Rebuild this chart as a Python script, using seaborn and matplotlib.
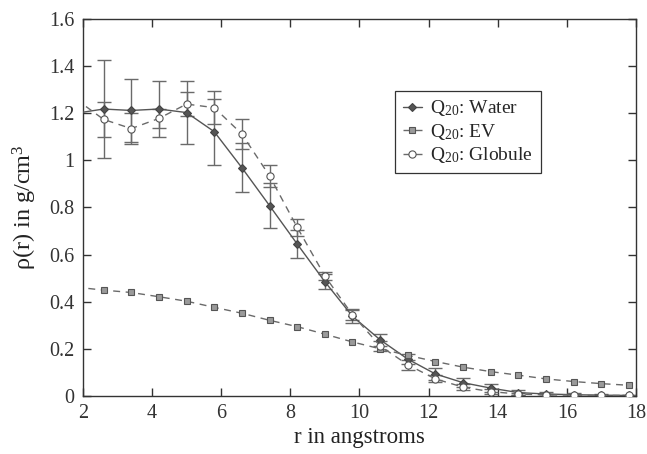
import numpy as np
import pandas as pd
import matplotlib
matplotlib.use("Agg")
import matplotlib.pyplot as plt
import seaborn as sns
from matplotlib.ticker import FuncFormatter

# Radial bin centres (first point sits just left of the axis and is clipped)
r = [1.8, 2.6, 3.4, 4.2, 5.0, 5.8, 6.6, 7.4, 8.2, 9.0, 9.8,
     10.6, 11.4, 12.2, 13.0, 13.8, 14.6, 15.4, 16.2, 17.0, 17.8]

water = [1.20, 1.218, 1.212, 1.218, 1.203, 1.122, 0.969, 0.808, 0.645, 0.485, 0.338,
         0.238, 0.156, 0.093, 0.056, 0.033, 0.014, 0.008, 0.005, 0.003, 0.002]
water_err = [0.0, 0.21, 0.133, 0.12, 0.135, 0.14, 0.105, 0.094, 0.06, 0.032, 0.03,
             0.025, 0.022, 0.025, 0.02, 0.017, 0.012, 0.008, 0.006, 0.004, 0.003]

ev = [0.462, 0.449, 0.439, 0.421, 0.402, 0.376, 0.351, 0.321, 0.294, 0.262, 0.229,
      0.200, 0.172, 0.146, 0.122, 0.103, 0.088, 0.072, 0.061, 0.052, 0.045]

globule = [1.26, 1.174, 1.135, 1.178, 1.239, 1.224, 1.112, 0.934, 0.716, 0.509, 0.344,
           0.212, 0.132, 0.072, 0.037, 0.018, 0.008, 0.004, 0.003, 0.002, 0.002]
globule_err = [0.0, 0.075, 0.065, 0.04, 0.05, 0.07, 0.065, 0.048, 0.035, 0.015, 0.02,
               0.02, 0.02, 0.015, 0.012, 0.01, 0.006, 0.004, 0.003, 0.002, 0.002]

labels = ["Q$_{20}$: Water", "Q$_{20}$: EV", "Q$_{20}$: Globule"]
xticks = [2, 4, 6, 8, 10, 12, 14, 16, 18]
yticks = [0, 0.2, 0.4, 0.6, 0.8, 1.0, 1.2, 1.4, 1.6]

df = pd.DataFrame({"r": r, "water": water, "ev": ev, "globule": globule})

sns.set_style("ticks")
plt.rcParams["font.family"] = ["Liberation Serif", "DejaVu Serif"]
plt.rcParams["mathtext.fontset"] = "custom"
plt.rcParams["mathtext.rm"] = "Liberation Serif"
plt.rcParams["mathtext.it"] = "Liberation Serif:italic"

fig = plt.figure(figsize=(6.47, 4.54), dpi=100)
ax = fig.add_axes([0.128, 0.128, 0.855, 0.830])

dark = "#555555"
mid = "#6a6a6a"

# error bars (skip the clipped first point)
ax.errorbar(r[1:], water[1:], yerr=water_err[1:], fmt="none", ecolor=mid,
            elinewidth=1.0, capsize=4.8, capthick=1.0, zorder=2)
ax.errorbar(r[1:], globule[1:], yerr=globule_err[1:], fmt="none", ecolor=mid,
            elinewidth=1.0, capsize=4.8, capthick=1.0, zorder=2)

sns.lineplot(data=df, x="r", y="water", ax=ax, color=dark, linewidth=1.0,
             marker="D", markersize=4.3, markerfacecolor=dark,
             markeredgecolor="#444444", markeredgewidth=0.8, label=labels[0], zorder=3)
sns.lineplot(data=df, x="r", y="ev", ax=ax, color=mid, linewidth=1.0, linestyle=(0, (5, 4)),
             marker="s", markersize=4.0, markerfacecolor="#9a9a9a",
             markeredgecolor="#555555", markeredgewidth=0.8, label=labels[1], zorder=3)
sns.lineplot(data=df, x="r", y="globule", ax=ax, color=mid, linewidth=1.0, linestyle=(0, (5, 4)),
             marker="o", markersize=5.2, markerfacecolor="white",
             markeredgecolor="#555555", markeredgewidth=0.8, label=labels[2], zorder=3)

ax.set_xlim(2, 18)
ax.set_ylim(0, 1.6)
ax.set_xticks(xticks)
ax.set_yticks(yticks)
ax.yaxis.set_major_formatter(FuncFormatter(lambda v, p: f"{v:g}"))
ax.tick_params(direction="in", length=6, width=1, colors="#333333", labelsize=14.5,
               top=True, right=True, pad=6)
ax.tick_params(axis="x", pad=6)
for s in ax.spines.values():
    s.set_visible(True)
    s.set_color("#333333")
    s.set_linewidth(1.0)

ax.set_xlabel("r in angstroms", fontsize=16.5, color="#222222", labelpad=3)
ax.set_ylabel("ρ(r) in g/cm$^3$", fontsize=17.5, color="#222222", labelpad=7)

leg = ax.legend(loc="upper left", bbox_to_anchor=(0.565, 0.81), fontsize=14,
                frameon=True, fancybox=False, edgecolor="#333333", framealpha=1,
                handlelength=0.95, handletextpad=0.45, borderpad=0.4,
                labelspacing=0.18, borderaxespad=0.0)
leg.get_frame().set_linewidth(0.9)

fig.savefig("out.png", dpi=100)
